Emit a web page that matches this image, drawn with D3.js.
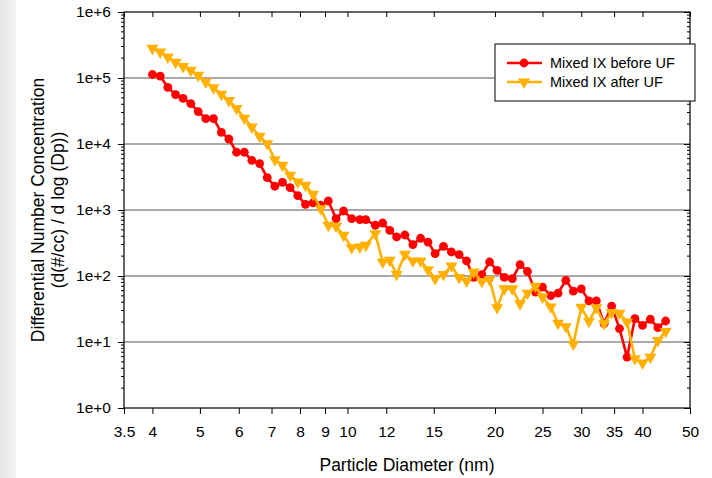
<!DOCTYPE html>
<html>
<head>
<meta charset="utf-8">
<script src="https://cdn.jsdelivr.net/npm/d3@7"></script>
<style>
  body { margin: 0; background: #fff; }
  svg { display: block; font-family: Arial, "Liberation Sans", sans-serif; }
</style>
</head>
<body>
<script>
// particle diameters (nm), one per SMPS channel
var diameters = [4.00, 4.15, 4.30, 4.46, 4.62, 4.79, 4.96, 5.14, 5.33, 5.53,
  5.73, 5.94, 6.16, 6.38, 6.62, 6.86, 7.11, 7.37, 7.64, 7.92,
  8.21, 8.51, 8.82, 9.14, 9.48, 9.82, 10.2, 10.6, 10.9, 11.4,
  11.8, 12.2, 12.6, 13.1, 13.6, 14.1, 14.6, 15.1, 15.7, 16.3,
  16.9, 17.5, 18.1, 18.8, 19.5, 20.2, 20.9, 21.7, 22.5, 23.3,
  24.2, 25.0, 26.0, 26.9, 27.9, 28.9, 30.0, 31.1, 32.2, 33.4,
  34.6, 35.9, 37.2, 38.6, 40.0, 41.5, 43.0, 44.6];

var beforeUF = [113000, 107000, 72000, 56000, 49000, 41000, 31000, 24300, 24300, 15000,
  11900, 7500, 7500, 5660, 5050, 3100, 2290, 2630, 2180, 1650,
  1220, 1280, 1180, 1370, 741, 966, 741, 716, 716, 587,
  635, 492, 390, 418, 299, 373, 327, 218, 282, 231,
  211, 169, 95, 105, 163, 122, 95, 91, 149, 117,
  57, 68, 50.5, 55, 86, 59, 64, 42, 42, 19,
  35, 16, 5.9, 22.6, 17.9, 22.1, 16.5, 20.8];

var afterUF = [282000, 248000, 208000, 173000, 149000, 131000, 110000, 87000, 71000, 56600,
  45500, 34700, 24700, 18100, 13100, 10100, 5800, 4760, 3360, 2660,
  2370, 1730, 1050, 587, 566, 414, 269, 275, 292, 439,
  163, 173, 106, 213, 169, 169, 125, 91, 106, 142,
  95, 84, 115, 83, 88, 33.2, 64, 64, 38, 55,
  70, 48, 34, 19.2, 17.1, 9.3, 33.6, 20.6, 33.2, 19,
  28, 27.2, 20.1, 5.6, 4.8, 5.9, 10.6, 14.5];

var xTicks = [3.5, 4, 5, 6, 7, 8, 9, 10, 12, 15, 20, 25, 30, 35, 40, 50];
var yTicks = [1, 10, 100, 1000, 10000, 100000, 1000000];
var seriesNames = ["Mixed IX before UF", "Mixed IX after UF"];
var seriesColors = ["#ff0000", "#ffb000"];

var W = 712, H = 478;
var m = { left: 124, right: 690, top: 12, bottom: 408 };

var svg = d3.select("body").append("svg")
    .attr("width", W)
    .attr("height", H);

// soft grey strip on the left edge
var grad = svg.append("defs").append("linearGradient")
    .attr("id", "strip").attr("x1", 0).attr("x2", 1);
grad.append("stop").attr("offset", 0).attr("stop-color", "#e4e4e4");
grad.append("stop").attr("offset", 1).attr("stop-color", "#f4f4f4");
svg.append("rect").attr("x", 0).attr("y", 0).attr("width", 16).attr("height", H)
    .attr("fill", "url(#strip)");

var x = d3.scaleLog().domain([3.5, 50]).range([m.left, m.right]);
var y = d3.scaleLog().domain([1, 1e6]).range([m.bottom, m.top]);

// horizontal grid lines
svg.append("g").selectAll("line")
    .data(yTicks.slice(1, -1))
    .enter().append("line")
    .attr("x1", m.left).attr("x2", m.right)
    .attr("y1", function(d) { return y(d); })
    .attr("y2", function(d) { return y(d); })
    .attr("stroke", "#8c8c8c")
    .attr("stroke-width", 1.3);

// minor ticks for the log y axis
var minor = [];
for (var dec = 1; dec < 1e6; dec *= 10) {
    for (var k = 2; k <= 9; k++) minor.push(dec * k);
}

// left axis
var yAxisL = d3.axisLeft(y).tickValues(yTicks)
    .tickFormat(function(d) { return "1e+" + Math.round(Math.log10(d)); })
    .tickSize(6).tickPadding(7);
var gl = svg.append("g").attr("transform", "translate(" + m.left + ",0)").call(yAxisL);
gl.selectAll("text").attr("font-size", 15.5).attr("fill", "#000");
gl.select(".domain").remove();

svg.append("g").selectAll("line").data(minor).enter().append("line")
    .attr("x1", m.left - 3).attr("x2", m.left)
    .attr("y1", function(d) { return y(d); }).attr("y2", function(d) { return y(d); })
    .attr("stroke", "#000");

// right axis, ticks inward
var yAxisR = d3.axisLeft(y).tickValues(yTicks).tickFormat("").tickSize(6);
var gr = svg.append("g").attr("transform", "translate(" + m.right + ",0)").call(yAxisR);
gr.select(".domain").remove();
svg.append("g").selectAll("line").data(minor).enter().append("line")
    .attr("x1", m.right - 3).attr("x2", m.right)
    .attr("y1", function(d) { return y(d); }).attr("y2", function(d) { return y(d); })
    .attr("stroke", "#000");

// bottom axis
var xAxisB = d3.axisBottom(x).tickValues(xTicks)
    .tickFormat(function(d) { return String(d); })
    .tickSize(6).tickPadding(12);
var gb = svg.append("g").attr("transform", "translate(0," + m.bottom + ")").call(xAxisB);
gb.selectAll("text").attr("font-size", 15.5).attr("fill", "#000");
gb.select(".domain").remove();

// top axis, ticks inward
var xAxisT = d3.axisBottom(x).tickValues(xTicks).tickFormat("").tickSize(5);
var gt = svg.append("g").attr("transform", "translate(0," + m.top + ")").call(xAxisT);
gt.select(".domain").remove();

// plot frame
svg.append("rect")
    .attr("x", m.left).attr("y", m.top)
    .attr("width", m.right - m.left).attr("height", m.bottom - m.top)
    .attr("fill", "none").attr("stroke", "#000").attr("stroke-width", 1.2);

// series
var line = d3.line()
    .x(function(d) { return x(d[0]); })
    .y(function(d) { return y(d[1]); });

var series = [beforeUF, afterUF].map(function(vals) {
    return diameters.map(function(dp, i) { return [dp, vals[i]]; });
});

var tri = d3.symbol().type(d3.symbolTriangle).size(62);

series.forEach(function(pts, s) {
    var g = svg.append("g");
    g.append("path")
        .datum(pts)
        .attr("d", line)
        .attr("fill", "none")
        .attr("stroke", seriesColors[s])
        .attr("stroke-width", 2.6)
        .attr("stroke-linejoin", "round");
    if (s === 0) {
        g.selectAll("circle").data(pts).enter().append("circle")
            .attr("cx", function(d) { return x(d[0]); })
            .attr("cy", function(d) { return y(d[1]); })
            .attr("r", 4.4)
            .attr("fill", seriesColors[s]);
    } else {
        g.selectAll(".tri").data(pts).enter().append("path")
            .attr("class", "tri")
            .attr("d", tri)
            .attr("transform", function(d) {
                return "translate(" + x(d[0]) + "," + y(d[1]) + ") rotate(180)";
            })
            .attr("fill", seriesColors[s]);
    }
});

// legend
var lg = svg.append("g").attr("transform", "translate(495,44)");
lg.append("rect").attr("width", 200).attr("height", 57)
    .attr("fill", "#fff").attr("stroke", "#000").attr("stroke-width", 1);
seriesNames.forEach(function(name, s) {
    var ly = 19 + s * 19;
    lg.append("line").attr("x1", 12).attr("x2", 47).attr("y1", ly).attr("y2", ly)
        .attr("stroke", seriesColors[s]).attr("stroke-width", 2.6);
    if (s === 0) {
        lg.append("circle").attr("cx", 29).attr("cy", ly).attr("r", 4.4).attr("fill", seriesColors[s]);
    } else {
        lg.append("path").attr("d", tri)
            .attr("transform", "translate(29," + ly + ") rotate(180)")
            .attr("fill", seriesColors[s]);
    }
    lg.append("text").attr("x", 55).attr("y", ly + 5)
        .attr("font-size", 14.5).attr("fill", "#000")
        .text(name);
});

// axis titles
svg.append("text")
    .attr("x", (m.left + m.right) / 2).attr("y", 471)
    .attr("text-anchor", "middle").attr("font-size", 17.5)
    .text("Particle Diameter (nm)");

var yt = svg.append("text")
    .attr("transform", "translate(44,210) rotate(-90)")
    .attr("text-anchor", "middle").attr("font-size", 17.5);
yt.append("tspan").attr("x", 0).attr("dy", 0).text("Differential Number Concentration");
yt.append("tspan").attr("x", 0).attr("dy", 20).text("(d(#/cc) / d log (Dp))");
</script>
</body>
</html>
